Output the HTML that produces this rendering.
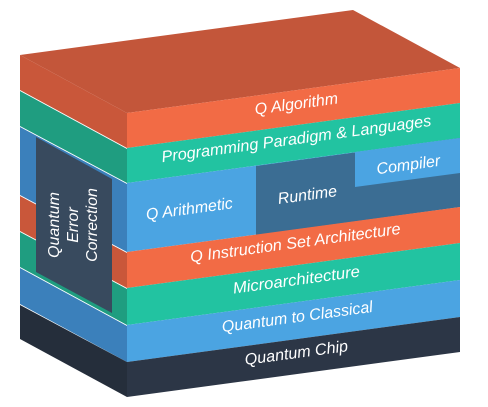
<!DOCTYPE html>
<html><head><style>
html,body{margin:0;padding:0;background:#fff;width:488px;height:407px;overflow:hidden}
text{font-family:"Liberation Sans",sans-serif;font-style:italic;fill:#fff;font-size:16px}
</style></head><body>
<svg width="488" height="407" viewBox="0 0 488 407" xmlns="http://www.w3.org/2000/svg">
<polygon points="20,55 127,113 460,68 353,10" fill="#c3563a"/>
<polygon points="20,55 127,113 127,148 20,90" fill="#c9573a"/>
<polygon points="20,91 127,149 127,183 20,126" fill="#1f9d80"/>
<polygon points="20,127 127,184 127,252 20,195" fill="#3b80bb"/>
<polygon points="20,196 127,253 127,288 20,231" fill="#c9573a"/>
<polygon points="20,232 127,289 127,325 20,267" fill="#1f9d80"/>
<polygon points="20,268 127,326 127,362 20,304" fill="#3b80bb"/>
<polygon points="20,305 127,362 127,397 20,339" fill="#252e3b"/>
<polygon points="36,137 112,179 112,313 36,272" fill="#384a5e"/>
<g transform="translate(74,225) rotate(-90)">
<text x="0" y="-15" text-anchor="middle">Quantum</text>
<text x="0" y="4" text-anchor="middle">Error</text>
<text x="0" y="23" text-anchor="middle">Correction</text>
</g>
<polygon points="127,113 460,68 460,103 127,148" fill="#f26b45"/>
<polygon points="127,148 460,103 460,138 127,183" fill="#22c3a1"/>
<polygon points="127,183 460,138 460,207 127,252" fill="#4ba4e2"/>
<polygon points="256,166 460,138 460,207 256,235" fill="#3b6d93"/>
<polygon points="355,152 460,138 460,173 355,187" fill="#4ba4e2"/>
<polygon points="127,252 460,207 460,243 127,288" fill="#f26b45"/>
<polygon points="127,288 460,243 460,280 127,325" fill="#22c3a1"/>
<polygon points="127,325 460,280 460,317 127,362" fill="#4ba4e2"/>
<polygon points="127,362 460,317 460,352 127,397" fill="#2c3646"/>
<text transform="translate(297,109) rotate(-7.7)" text-anchor="middle">Q Algorithm</text>
<text transform="translate(297,144) rotate(-7.7)" text-anchor="middle" textLength="272" lengthAdjust="spacingAndGlyphs">Programming Paradigm &amp; Languages</text>
<text transform="translate(409,170) rotate(-7.7)" text-anchor="middle">Compiler</text>
<text transform="translate(308,200) rotate(-7.7)" text-anchor="middle">Runtime</text>
<text transform="translate(190,214) rotate(-7.7)" text-anchor="middle">Q Arithmetic</text>
<text transform="translate(296,248) rotate(-7.7)" text-anchor="middle" textLength="212" lengthAdjust="spacingAndGlyphs">Q Instruction Set Architecture</text>
<text transform="translate(297,285) rotate(-7.7)" text-anchor="middle" textLength="128" lengthAdjust="spacingAndGlyphs">Microarchitecture</text>
<text transform="translate(298,322) rotate(-7.7)" text-anchor="middle" textLength="152" lengthAdjust="spacingAndGlyphs">Quantum to Classical</text>
<text transform="translate(297,358) rotate(-7.7)" text-anchor="middle" textLength="104" lengthAdjust="spacingAndGlyphs">Quantum Chip</text>
</svg>
</body></html>
